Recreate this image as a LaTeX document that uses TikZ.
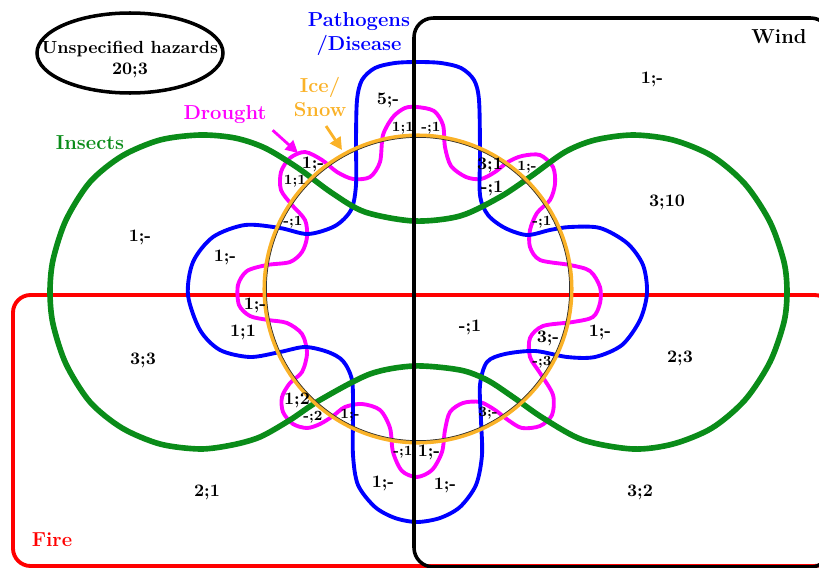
\documentclass[tikz,border=0pt]{standalone}
\usetikzlibrary{shapes.geometric,arrows.meta}
\definecolor{insectgreen}{RGB}{10,140,25}
\definecolor{iceorange}{RGB}{250,178,40}
\definecolor{droughtpink}{RGB}{255,0,255}
\definecolor{pathoblue}{RGB}{0,0,255}
\definecolor{firered}{RGB}{255,0,0}

\begin{document}
\begin{tikzpicture}[x=0.02cm,y=-0.02cm,
    count/.style={font=\bfseries},
    smallcount/.style={font=\bfseries\footnotesize},
    setname/.style={font=\bfseries\fontsize{11.5}{13.5}\selectfont, align=center}]
    \clip (0,0) rectangle (819,568);

    % Fire
    \draw[firered, line width=2.2pt, rounded corners=10pt] (13,295) rectangle (832,566);

    % Drought
    \draw[droughtpink, line width=2.2pt] plot[smooth cycle] coordinates {
        (417,107) (434,111) (443,125) (445,147) (451,166) (466,177) (481,179) (495,172)
        (508,162) (522,156) (540,155) (553,167) (555,184) (550,200) (537,213) (530,230)
        (530,247) (540,260) (570,265) (590,271) (600,287) (600,303) (593,317) (573,322)
        (543,326) (530,338) (530,357) (540,373) (553,395) (552,415) (540,426) (522,428)
        (508,420) (495,410) (480,402) (463,403) (450,412) (445,430) (442,452) (432,470)
        (417,477) (402,471) (393,452) (390,428) (380,410) (362,404) (345,407) (333,416)
        (320,424) (307,428) (293,424) (283,412) (282,397) (290,383) (302,372) (307,353)
        (302,334) (287,323) (268,320) (250,316) (239,305) (238,285) (247,271) (267,265)
        (290,262) (302,252) (307,237) (305,220) (292,205) (281,190) (281,172) (290,158)
        (305,152) (322,160) (337,172) (353,179) (370,177) (380,162) (383,135) (393,117)
        (405,108)};

    % Pathogens/Disease
    \draw[pathoblue, line width=2.2pt] plot[smooth cycle] coordinates {
        (418,62) (441,63) (461,68) (474,80) (479,100) (480,150) (480,195) (488,215)
        (505,228) (527,235) (550,230) (570,227) (600,228) (627,243) (643,265) (647,293)
        (640,320) (622,345) (595,357) (567,357) (535,351) (505,354) (487,362) (480,385)
        (481,420) (482,455) (476,485) (460,507) (440,518) (417,522) (395,518) (375,507)
        (358,485) (353,455) (353,413) (352,380) (343,361) (328,352) (305,347) (280,352)
        (250,357) (220,350) (200,330) (188,295) (193,262) (213,237) (245,225) (280,228)
        (308,234) (335,226) (351,210) (356,185) (356,140) (357,100) (362,80) (375,68)
        (395,63)};

    % Insects
    \draw[insectgreen, line width=3.2pt] plot[smooth cycle] coordinates {
        (414,221) (460,216) (500,197) (530,177) (565,152) (595,140) (633,135) (673,140)
        (712,156) (745,184) (770,222) (784,262) (787,292) (784,322) (770,362) (745,400)
        (712,428) (673,444) (633,449) (583,440) (543,418) (513,397) (487,380) (460,370)
        (414,366) (370,374) (320,400) (290,420) (260,437) (232,445) (200,449) (160,444)
        (122,428) (90,402) (66,364) (53,324) (50,292) (53,260) (66,220) (90,182)
        (122,156) (160,140) (200,135) (235,138) (265,148) (298,168) (332,193) (365,212)};

    % Ice/Snow
    \draw[iceorange, line width=2.3pt] (418,289) circle (153.5);
    \draw[black!80, line width=0.4pt] (418,289) circle (151.6);

    % Wind
    \draw[line width=2pt, rounded corners=11pt] (414,18) rectangle (830,567);

    % Beschriftung der Mengen
    \node[font=\bfseries, align=center] (unspec) at (130,60) {Unspecified hazards\\20;3};
    \draw[line width=2pt] (130,53) ellipse [x radius=93, y radius=40];
    \node[setname, pathoblue] (patho) at (359,34) {Pathogens\\/Disease};
    \node[setname] (wind) at (779,37) {Wind};
    \node[setname, insectgreen] (insects) at (90,143) {Insects};
    \node[setname, droughtpink] (drought) at (225,115) {Drought};
    \node[setname, iceorange] (ice) at (320,97) {Ice/\\Snow};
    \node[setname, firered] (fire) at (52,540) {Fire};

    % Pfeile
    \coordinate (droughttip) at (298,153);
    \coordinate (icestart) at (326,126);
    \coordinate (icetip) at (342,150);
    \draw[droughtpink, line width=1.6pt, -{Triangle[length=7pt,width=7pt]}] (drought.south east) -- (droughttip);
    \draw[iceorange, line width=1.6pt, -{Triangle[length=7pt,width=7pt]}] (icestart) -- (icetip);

    % Die Anzahlen
    \node[count] (c01) at (388,100) {5;-};
    \node[count] (c02) at (652,79) {1;-};
    \node[smallcount] (c03) at (403,128) {1;1};
    \node[smallcount] (c04) at (431,128) {-;1};
    \node[count] (c05) at (313,164) {1;-};
    \node[smallcount] (c06) at (295,181) {1;1};
    \node[count] (c07) at (490,165) {3;1};
    \node[smallcount] (c08) at (527,167) {1;-};
    \node[count] (c09) at (492,188) {-;1};
    \node[smallcount] (c10) at (293,222) {-;1};
    \node[count] (c11) at (225,257) {1;-};
    \node[count] (c12) at (255,305) {1;-};
    \node[count] (c13) at (243,332) {1;1};
    \node[count] (c14) at (140,237) {1;-};
    \node[count] (c15) at (143,360) {3;3};
    \node[count] (c16) at (297,400) {1;2};
    \node[smallcount] (c17) at (313,417) {-;2};
    \node[smallcount] (c18) at (350,415) {1;-};
    \node[smallcount] (c19) at (403,452) {-;1};
    \node[count] (c20) at (429,452) {1;-};
    \node[count] (c21) at (383,483) {1;-};
    \node[count] (c22) at (445,485) {1;-};
    \node[smallcount] (c23) at (488,413) {3;-};
    \node[count] (c24) at (207,492) {2;1};
    \node[count] (c25) at (640,492) {3;2};
    \node[count] (c26) at (470,327) {-;1};
    \node[count] (c27) at (548,338) {3;-};
    \node[smallcount] (c28) at (542,362) {-;3};
    \node[count] (c29) at (600,332) {1;-};
    \node[smallcount] (c30) at (542,222) {-;1};
    \node[count] (c31) at (667,202) {3;10};
    \node[count] (c32) at (680,358) {2;3};
\end{tikzpicture}
\end{document}
